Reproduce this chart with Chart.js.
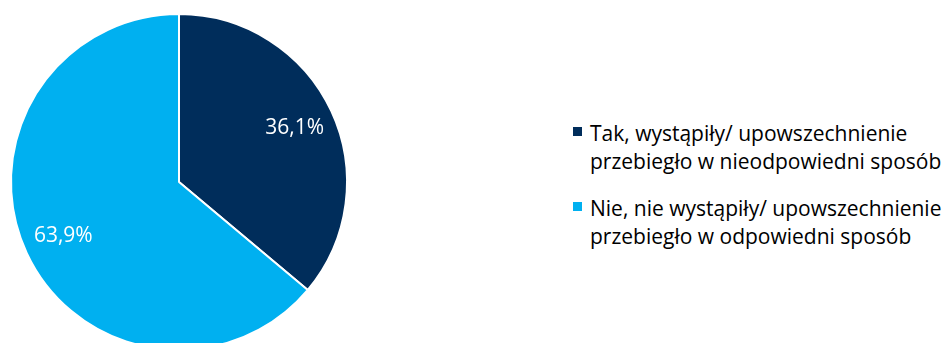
<!DOCTYPE html>
<html lang="pl">
<head>
<meta charset="utf-8">
<title>Wykres kołowy</title>
<script src="https://cdn.jsdelivr.net/npm/chart.js@4/dist/chart.umd.min.js"></script>
<style>
  html, body { margin: 0; padding: 0; background: #fff; }
  #page { position: relative; width: 945px; height: 343px; overflow: hidden; }
  #pieBox { position: absolute; left: 0; top: 0; width: 358px; height: 364px; }
  #legend { position: absolute; left: 573px; top: 119px; margin: 0; padding: 0; list-style: none;
            font-family: "Open Sans", sans-serif; font-size: 21px; line-height: 28px; color: #000; }
  #legend li { display: flex; align-items: flex-start; margin-bottom: 19px; white-space: nowrap; }
  #legend .box { flex: none; width: 9px; height: 9px; margin: 8px 8px 0 0; }
</style>
</head>
<body>
<div id="page">
  <div id="pieBox"><canvas id="pieChart"></canvas></div>
  <ul id="legend"></ul>
</div>
<script>
/* ---------- dane ---------- */
const categories = [
  ['Tak, wystąpiły/ upowszechnienie', 'przebiegło w nieodpowiedni sposób'],
  ['Nie, nie wystąpiły/ upowszechnienie', 'przebiegło w odpowiedni sposób']
];
const values = [36.1, 63.9];
const colors = ['#002D5B', '#00B0F0'];

/* ---------- etykiety z wartościami na wycinkach ---------- */
const sliceLabels = {
  id: 'sliceLabels',
  afterDatasetsDraw(chart) {
    const { ctx } = chart;
    const meta = chart.getDatasetMeta(0);
    ctx.save();
    ctx.font = '21px "Open Sans", sans-serif';
    ctx.fillStyle = '#fff';
    ctx.textAlign = 'center';
    ctx.textBaseline = 'middle';
    meta.data.forEach((arc, i) => {
      const { x, y, startAngle, endAngle, outerRadius } = arc.getProps(['x', 'y', 'startAngle', 'endAngle', 'outerRadius']);
      const mid = (startAngle + endAngle) / 2;
      const r = outerRadius * 0.76;
      const txt = values[i].toFixed(1).replace('.', ',') + '%';
      ctx.fillText(txt, x + Math.cos(mid) * r, y + Math.sin(mid) * r);
    });
    ctx.restore();
  }
};

new Chart(document.getElementById('pieChart'), {
  type: 'pie',
  data: {
    labels: categories.map(c => c.join(' ')),
    datasets: [{
      data: values,
      backgroundColor: colors,
      borderColor: '#fff',
      borderWidth: 2
    }]
  },
  options: {
    responsive: true,
    maintainAspectRatio: false,
    animation: false,
    layout: { padding: { left: 10, right: 10, top: 13, bottom: 13 } },
    plugins: { legend: { display: false }, tooltip: { enabled: false } }
  },
  plugins: [sliceLabels]
});

/* ---------- legenda ---------- */
document.getElementById('legend').innerHTML = categories.map((c, i) =>
  `<li><span class="box" style="background:${colors[i]}"></span><span>${c.join('<br>')}</span></li>`
).join('');
</script>
</body>
</html>
